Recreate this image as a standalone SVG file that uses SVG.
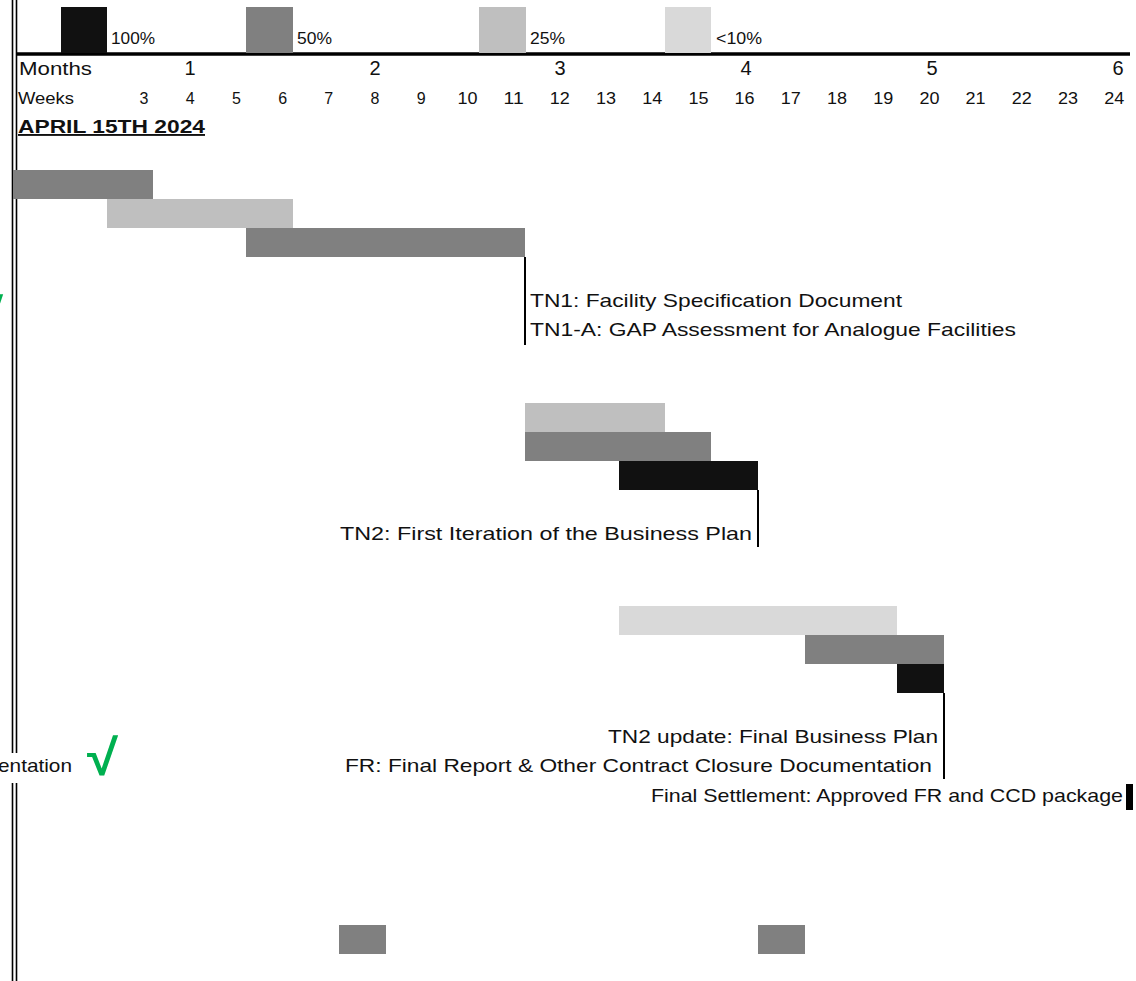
<svg xmlns="http://www.w3.org/2000/svg" width="1136" height="981" viewBox="0 0 1136 981">
<style>
text { font-family: "Liberation Sans", Arial, sans-serif; fill: #111; }
.leg { font-size: 16px; }
.mon { font-size: 20px; text-anchor: middle; }
.wk { font-size: 16px; text-anchor: middle; }
.lbl { font-size: 19px; }
.g100 { fill: #111111; }
.g50 { fill: #808080; }
.g25 { fill: #bfbfbf; }
.g10 { fill: #d9d9d9; }
.tick { fill: #00b050; font-size: 50px; font-weight: bold; }
.ms { stroke: #000; stroke-width: 2; fill: none; }
</style>
<rect width="1136" height="981" fill="#ffffff"/>

<g id="frame">
  <line x1="12.5" y1="0" x2="12.5" y2="981" stroke="#000" stroke-width="1.6"/>
  <line x1="16.5" y1="0" x2="16.5" y2="981" stroke="#000" stroke-width="1.6"/>
  <line x1="16" y1="54" x2="1130" y2="54" stroke="#000" stroke-width="3.5"/>
</g>

<g id="legend">
  <rect class="g100" x="61" y="7" width="46" height="46"/>
  <text class="leg" x="111" y="44" textLength="44" lengthAdjust="spacingAndGlyphs">100%</text>
  <rect class="g50" x="246" y="7" width="47" height="46"/>
  <text class="leg" x="297" y="44" textLength="35" lengthAdjust="spacingAndGlyphs">50%</text>
  <rect class="g25" x="479" y="7" width="47" height="46"/>
  <text class="leg" x="530" y="44" textLength="35" lengthAdjust="spacingAndGlyphs">25%</text>
  <rect class="g10" x="665" y="7" width="46" height="46"/>
  <text class="leg" x="716" y="44" textLength="46" lengthAdjust="spacingAndGlyphs">&lt;10%</text>
</g>

<g id="timescale">
  <text x="19" y="75" style="font-size:19px" textLength="73" lengthAdjust="spacingAndGlyphs">Months</text>
  <text class="mon" x="190" y="75">1</text>
  <text class="mon" x="375" y="75">2</text>
  <text class="mon" x="560" y="75">3</text>
  <text class="mon" x="746" y="75">4</text>
  <text class="mon" x="932" y="75">5</text>
  <text class="mon" x="1118" y="75">6</text>
  <text x="18" y="104" style="font-size:16px" textLength="56" lengthAdjust="spacingAndGlyphs">Weeks</text>
  <text class="wk" x="144" y="104">3</text>
  <text class="wk" x="190.2" y="104">4</text>
  <text class="wk" x="236.4" y="104">5</text>
  <text class="wk" x="282.6" y="104">6</text>
  <text class="wk" x="328.8" y="104">7</text>
  <text class="wk" x="375" y="104">8</text>
  <text class="wk" x="421.2" y="104">9</text>
  <text class="wk" x="467.4" y="104" textLength="20" lengthAdjust="spacingAndGlyphs">10</text>
  <text class="wk" x="513.6" y="104" textLength="20" lengthAdjust="spacingAndGlyphs">11</text>
  <text class="wk" x="559.8" y="104" textLength="20" lengthAdjust="spacingAndGlyphs">12</text>
  <text class="wk" x="606" y="104" textLength="20" lengthAdjust="spacingAndGlyphs">13</text>
  <text class="wk" x="652.2" y="104" textLength="20" lengthAdjust="spacingAndGlyphs">14</text>
  <text class="wk" x="698.4" y="104" textLength="20" lengthAdjust="spacingAndGlyphs">15</text>
  <text class="wk" x="744.6" y="104" textLength="20" lengthAdjust="spacingAndGlyphs">16</text>
  <text class="wk" x="790.8" y="104" textLength="20" lengthAdjust="spacingAndGlyphs">17</text>
  <text class="wk" x="837" y="104" textLength="20" lengthAdjust="spacingAndGlyphs">18</text>
  <text class="wk" x="883.2" y="104" textLength="20" lengthAdjust="spacingAndGlyphs">19</text>
  <text class="wk" x="929.4" y="104" textLength="20" lengthAdjust="spacingAndGlyphs">20</text>
  <text class="wk" x="975.6" y="104" textLength="20" lengthAdjust="spacingAndGlyphs">21</text>
  <text class="wk" x="1021.8" y="104" textLength="20" lengthAdjust="spacingAndGlyphs">22</text>
  <text class="wk" x="1068" y="104" textLength="20" lengthAdjust="spacingAndGlyphs">23</text>
  <text class="wk" x="1114.2" y="104" textLength="20" lengthAdjust="spacingAndGlyphs">24</text>
  <text x="18" y="133" style="font-size:19px;font-weight:bold;text-decoration:underline" textLength="187" lengthAdjust="spacingAndGlyphs">APRIL 15TH 2024</text>
</g>

<g id="task-tn1">
  <rect class="g50" x="13" y="170" width="140" height="29"/>
  <rect class="g25" x="107" y="199" width="186" height="29"/>
  <rect class="g50" x="246" y="228" width="279" height="29"/>
  <text class="tick" x="-27" y="334" textLength="30" lengthAdjust="spacingAndGlyphs">√</text>
</g>

<g id="task-tn2">
  <rect class="g25" x="525" y="403" width="140" height="29"/>
  <rect class="g50" x="525" y="432" width="186" height="29"/>
  <rect class="g100" x="619" y="461" width="139" height="29"/>
</g>

<g id="task-final">
  <rect class="g10" x="619" y="606" width="278" height="29"/>
  <rect class="g50" x="805" y="635" width="139" height="29"/>
  <rect class="g100" x="897" y="664" width="47" height="29"/>
  <rect x="0" y="753" width="76" height="30" fill="#ffffff"/>
  <text class="lbl" x="-2" y="772" textLength="74" lengthAdjust="spacingAndGlyphs">entation</text>
  <text class="tick" x="87" y="775" textLength="31" lengthAdjust="spacingAndGlyphs">√</text>
</g>

<g id="extra-bars">
  <rect class="g50" x="339" y="925" width="47" height="29"/>
  <rect class="g50" x="758" y="925" width="47" height="29"/>
</g>

<g id="connectors">
  <line class="ms" x1="525" y1="257" x2="525" y2="345"/>
  <line class="ms" x1="758" y1="490" x2="758" y2="547"/>
  <line class="ms" x1="944" y1="693" x2="944" y2="779"/>
  <rect x="1126" y="784" width="7" height="26" fill="#000"/>
</g>

<g id="milestones">
  <text class="lbl" x="530" y="307" textLength="372" lengthAdjust="spacingAndGlyphs">TN1: Facility Specification Document</text>
  <text class="lbl" x="530" y="336" textLength="486" lengthAdjust="spacingAndGlyphs">TN1-A: GAP Assessment for Analogue Facilities</text>
  <text class="lbl" x="340" y="540" textLength="412" lengthAdjust="spacingAndGlyphs">TN2: First Iteration of the Business Plan</text>
  <text class="lbl" x="608" y="743" textLength="330" lengthAdjust="spacingAndGlyphs">TN2 update: Final Business Plan</text>
  <text class="lbl" x="345" y="772" textLength="587" lengthAdjust="spacingAndGlyphs">FR: Final Report &amp; Other Contract Closure Documentation</text>
  <text class="lbl" x="651" y="802" textLength="472" lengthAdjust="spacingAndGlyphs">Final Settlement: Approved FR and CCD package</text>
</g>
</svg>
